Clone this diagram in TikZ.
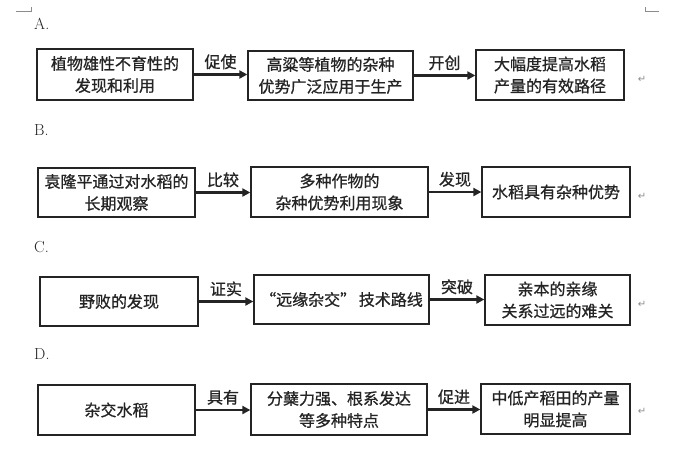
\documentclass[tikz,border=0pt]{standalone}
\usepackage{fontspec}
\newfontfamily\cjk[FakeBold=0.8]{Noto Sans CJK SC}
\newfontfamily\dejavu{DejaVu Sans}
\usepackage{tikz}
\usetikzlibrary{arrows.meta,positioning,calc}
\definecolor{cInk} {HTML}{242424}
\definecolor{cMark}{HTML}{8C8C8C}
\tikzset{
  blk/.style ={draw=cInk,line width=1.3pt,align=center,inner sep=2pt,
               font=\cjk\fontsize{16}{22}\selectfont,text=cInk},
  sig/.style ={-{Triangle[length=8pt,width=8pt]},draw=cInk,line width=2.6pt},
  lbl/.style ={font=\cjk\fontsize{16}{18}\selectfont,text=cInk,inner sep=1pt},
  opt/.style ={font=\fontsize{16}{18}\selectfont,text=cInk,anchor=west,inner sep=0pt},
  pmk/.style ={font=\dejavu\fontsize{10}{10}\selectfont,text=cMark,inner sep=0pt},
}

\begin{document}
\begin{tikzpicture}[x=1pt, y=-1pt]
\useasboundingbox (0,0) rectangle (675,451);

% page corner marks
\draw[cMark,line width=0.6pt] (16,11) -- (31,11) -- (31,7);
\draw[cMark,line width=0.6pt] (659,11) -- (645,11) -- (645,7);

% option A
\node[opt] (oA) at (34,24) {A.};
\node[blk,minimum width=156pt,minimum height=51pt] (a1) at (115,74.5)
  {植物雄性不育性的\\发现和利用};
\node[blk,minimum width=165pt,minimum height=49pt] (a2) at (330.5,75.5)
  {高粱等植物的杂种\\优势广泛应用于生产};
\node[blk,minimum width=148pt,minimum height=50pt] (a3) at (550,75)
  {大幅度提高水稻\\产量的有效路径};
\draw[sig] (a1.east) -- (a1.east -| a2.west) node[lbl,midway,above=3pt] (ta1) {促使};
\draw[sig] (a2.east) -- (a2.east -| a3.west) node[lbl,midway,above=3pt] (ta2) {开创};
\node[pmk] (pA) at (642,79) {↵};

% option B
\node[opt] (oB) at (34,130) {B.};
\node[blk,minimum width=157pt,minimum height=49pt] (b1) at (116.5,192.5)
  {袁隆平通过对水稻的\\长期观察};
\node[blk,minimum width=177pt,minimum height=50pt] (b2) at (339.5,192)
  {多种作物的\\杂种优势利用现象};
\node[blk,minimum width=148pt,minimum height=50pt] (b3) at (556,192)
  {水稻具有杂种优势};
\draw[sig] (b1.east) -- (b1.east -| b2.west) node[lbl,midway,above=3pt] (tb1) {比较};
\draw[sig] (b2.east) -- (b2.east -| b3.west) node[lbl,midway,above=3pt] (tb2) {发现};
\node[pmk] (pB) at (642,196) {↵};

% option C
\node[opt] (oC) at (34,247) {C.};
\node[blk,minimum width=158pt,minimum height=49pt] (c1) at (119,301.5)
  {野败的发现};
\node[blk,minimum width=175pt,minimum height=49pt] (c2) at (341.5,299.5)
  {“远缘杂交”\,技术路线};
\node[blk,minimum width=145pt,minimum height=50pt] (c3) at (557.5,300)
  {亲本的亲缘\\关系过远的难关};
\draw[sig] (c1.east) -- (c1.east -| c2.west) node[lbl,midway,above=3pt] (tc1) {证实};
\draw[sig] (c2.east) -- (c2.east -| c3.west) node[lbl,midway,above=3pt] (tc2) {突破};
\node[pmk] (pC) at (642,304) {↵};

% option D
\node[opt] (oD) at (34,354) {D.};
\node[blk,minimum width=157pt,minimum height=50pt] (d1) at (116.5,410)
  {杂交水稻};
\node[blk,minimum width=176pt,minimum height=51pt] (d2) at (339,409.5)
  {分蘖力强、根系发达\\等多种特点};
\node[blk,minimum width=149pt,minimum height=50pt] (d3) at (555.5,409)
  {中低产稻田的产量\\明显提高};
\draw[sig] (d1.east) -- (d1.east -| d2.west) node[lbl,midway,above=3pt] (td1) {具有};
\draw[sig] (d2.east) -- (d2.east -| d3.west) node[lbl,midway,above=3pt] (td2) {促进};
\node[pmk] (pD) at (642,411) {↵};
\end{tikzpicture}
\end{document}
